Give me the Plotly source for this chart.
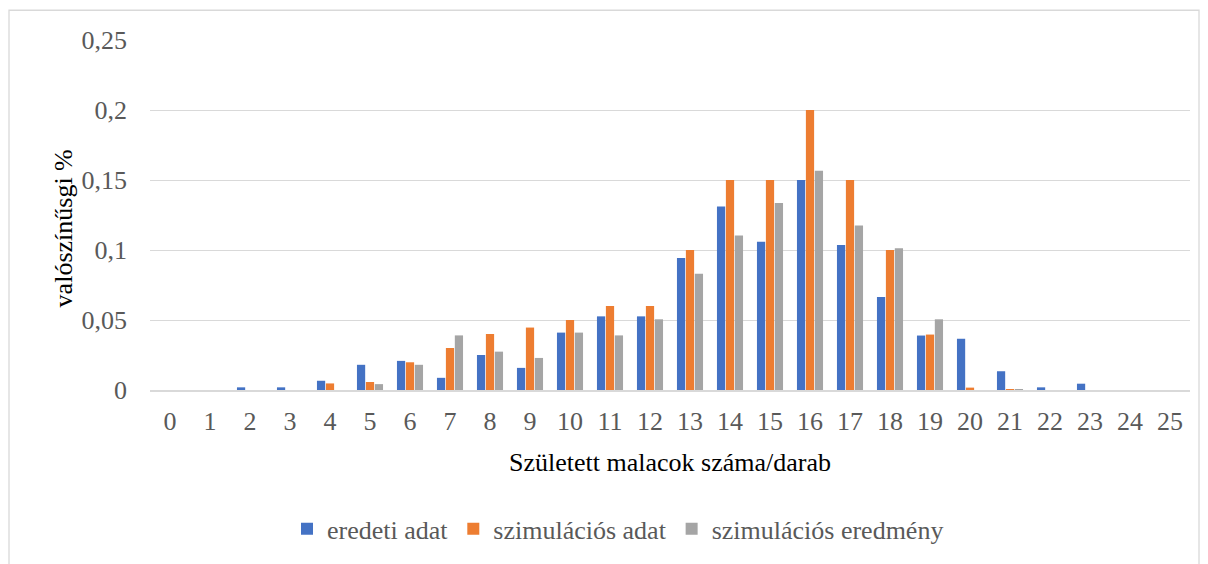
import plotly.graph_objects as go

categories = list(range(26))
eredeti_adat = [0, 0, 0.0019, 0.0019, 0.0066, 0.018, 0.0208, 0.0087, 0.025, 0.0158,
                0.041, 0.0526, 0.0526, 0.0943, 0.1311, 0.1059, 0.15, 0.1035, 0.0665,
                0.0389, 0.0366, 0.0134, 0.0019, 0.0045, 0, 0]
szimulacios_adat = [0, 0, 0, 0, 0.0047, 0.0057, 0.0198, 0.03, 0.04, 0.0446,
                    0.05, 0.06, 0.06, 0.1, 0.15, 0.15, 0.2, 0.15, 0.1,
                    0.0396, 0.0017, 0.0005, 0, 0, 0, 0]
szimulacios_eredmeny = [0, 0, 0, 0, 0, 0.0042, 0.018, 0.039, 0.0274, 0.0229,
                        0.041, 0.039, 0.0505, 0.083, 0.1104, 0.1335, 0.1566, 0.1175, 0.1012,
                        0.0505, 0, 0.0005, 0, 0, 0, 0]
series_names = ["eredeti adat", "szimulációs adat", "szimulációs eredmény"]
colors = ["#4472C4", "#ED7D31", "#A5A5A5"]

fig = go.Figure()
for name, vals, col in zip(series_names, [eredeti_adat, szimulacios_adat, szimulacios_eredmeny], colors):
    fig.add_trace(go.Bar(x=categories, y=vals, name=name, marker=dict(color=col, line=dict(width=0))))

font = "Liberation Serif"
fig.update_layout(
    width=1208, height=564,
    margin=dict(l=150, r=18, t=40, b=171),
    paper_bgcolor="white", plot_bgcolor="white",
    barmode="group", bargap=0.33, bargroupgap=0.08,
    separators=", ",
    font=dict(family=font, color="#595959"),
    showlegend=True,
    legend=dict(orientation="h", x=0.45, xanchor="center", y=(393 - 533) / 353, yanchor="middle",
                font=dict(size=26, color="#595959", family=font), itemwidth=30,
                traceorder="normal"),
    xaxis=dict(tickmode="array", tickvals=categories, ticktext=[str(c) for c in categories],
               range=[-0.5, 25.5], showgrid=False, showline=True, linecolor="#D9D9D9", linewidth=1.5,
               ticks="", tickfont=dict(size=26, color="#595959", family=font), ticklabelstandoff=7),
    yaxis=dict(range=[0, 0.25], dtick=0.05, tick0=0, showgrid=True, gridcolor="#D9D9D9", gridwidth=1.3,
               zeroline=False, showline=False, ticks="",
               tickfont=dict(size=26, color="#595959", family=font), ticklabelstandoff=22),
    annotations=[
        dict(text="Született malacok száma/darab", xref="paper", yref="paper",
             x=0.5, y=(393 - 466) / 353, xanchor="center", yanchor="middle",
             showarrow=False, font=dict(size=26, color="black", family=font)),
        dict(text="valószínűsgi %", xref="paper", yref="paper",
             x=(63 - 150) / 1040, y=(393 - 230) / 353, xanchor="center", yanchor="middle",
             textangle=-90, showarrow=False, font=dict(size=26, color="black", family=font)),
    ],
    shapes=[dict(type="rect", xref="paper", yref="paper",
                 x0=(9 - 150) / 1040, x1=(1199 - 150) / 1040,
                 y0=(393 - 575) / 353, y1=(393 - 10) / 353,
                 line=dict(color="#D9D9D9", width=1.3), fillcolor="rgba(0,0,0,0)", layer="below")],
)

fig.write_html("out.html", config={"displayModeBar": False},
               post_script="document.body.style.margin='0';document.body.style.overflow='hidden';")
